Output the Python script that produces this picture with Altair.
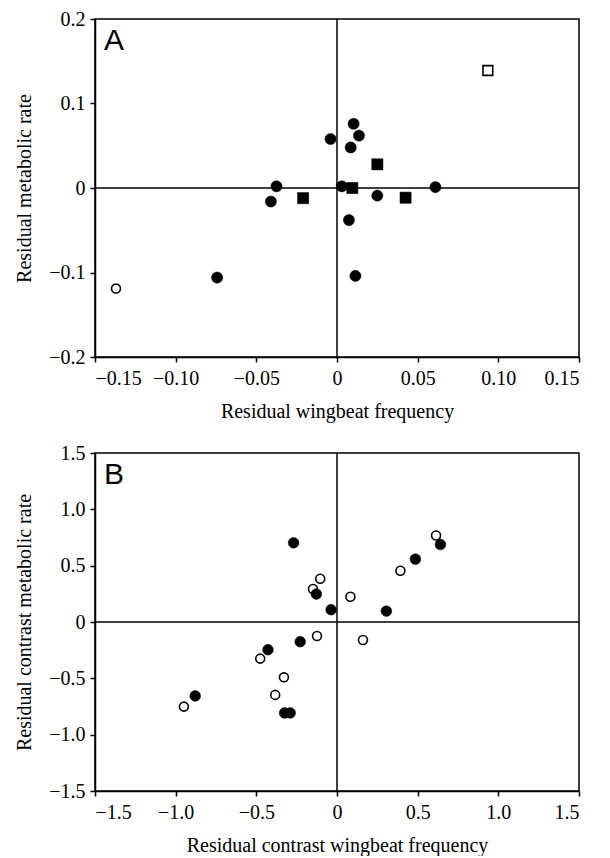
import altair as alt
import pandas as pd

# ---------------- Panel A data ----------------
a_fc_x = [-0.0743, -0.0375, -0.041, -0.004, 0.0103, 0.0136, 0.0085, 0.003, 0.0074, 0.0114, 0.025, 0.061]
a_fc_y = [-0.106, 0.002, -0.016, 0.058, 0.076, 0.062, 0.048, 0.002, -0.038, -0.104, -0.009, 0.001]
a_fs_x = [-0.021, 0.0095, 0.025, 0.0425]
a_fs_y = [-0.012, 0.0, 0.028, -0.0115]
a_oc_x = [-0.137]
a_oc_y = [-0.119]
a_os_x = [0.0935]
a_os_y = [0.139]

# ---------------- Panel B data ----------------
b_fc_x = [-0.269, -0.128, -0.037, -0.228, -0.428, -0.325, -0.29, -0.879, 0.641, 0.486, 0.306]
b_fc_y = [0.703, 0.248, 0.109, -0.175, -0.246, -0.807, -0.807, -0.656, 0.688, 0.558, 0.097]
b_oc_x = [-0.104, -0.149, 0.083, -0.124, 0.161, -0.476, -0.329, -0.383, -0.949, 0.614, 0.393]
b_oc_y = [0.384, 0.293, 0.224, -0.124, -0.160, -0.325, -0.491, -0.647, -0.751, 0.768, 0.455]

# ---------------- Axes ----------------
a_x_ticks = [-0.15, -0.10, -0.05, 0, 0.05, 0.10, 0.15]
a_y_ticks = [-0.2, -0.1, 0, 0.1, 0.2]
b_ticks = [-1.5, -1.0, -0.5, 0, 0.5, 1.0, 1.5]

W, H = 484, 338
SERIF = "Liberation Serif"


def df(xs, ys):
    return pd.DataFrame({"x": xs, "y": ys})


def panel(letter, layers_spec, xdom, ydom, xticks, yticks, xfmt, yfmt, xtitle, ytitle):
    xs = alt.Scale(domain=xdom, nice=False, zero=False)
    ys = alt.Scale(domain=ydom, nice=False, zero=False)
    xax = alt.Axis(values=xticks, title=xtitle, labelFont=SERIF, titleFont=SERIF,
                   labelExpr=f"datum.value == 0 ? '0' : format(datum.value, '{xfmt}')")
    yax = alt.Axis(values=yticks, title=ytitle, labelFont=SERIF, titleFont=SERIF,
                   labelExpr=f"datum.value == 0 ? '0' : format(datum.value, '{yfmt}')")

    vline = alt.Chart(pd.DataFrame({"x": [0]})).mark_rule(color="black", strokeWidth=1.5).encode(
        x=alt.X("x:Q", scale=xs, axis=xax))
    hline = alt.Chart(pd.DataFrame({"y": [0]})).mark_rule(color="black", strokeWidth=1.5).encode(
        y=alt.Y("y:Q", scale=ys, axis=yax))

    layers = [vline, hline]
    for d, shape, filled, size in layers_spec:
        if filled:
            m = alt.Chart(d).mark_point(shape=shape, filled=True, fill="black", stroke="black",
                                        strokeWidth=0.5, size=size, opacity=1)
        else:
            m = alt.Chart(d).mark_point(shape=shape, filled=True, fill="white", stroke="black",
                                        strokeWidth=1.6, size=size, opacity=1)
        layers.append(m.encode(x=alt.X("x:Q", scale=xs, axis=xax),
                               y=alt.Y("y:Q", scale=ys, axis=yax)))

    label = alt.Chart(pd.DataFrame({"t": [letter]})).mark_text(
        font="Liberation Sans", fontSize=30, align="left", baseline="alphabetic", color="black"
    ).encode(x=alt.value(9), y=alt.value(31), text="t:N")
    layers.append(label)
    return alt.layer(*layers).properties(width=W, height=H)


pa = panel(
    "A",
    [
        (df(a_oc_x, a_oc_y), "circle", False, 80),
        (df(a_os_x, a_os_y), "square", False, 95),
        (df(a_fc_x, a_fc_y), "circle", True, 125),
        (df(a_fs_x, a_fs_y), "square", True, 125),
    ],
    [-0.15, 0.15], [-0.2, 0.2], a_x_ticks, a_y_ticks, ".2f", ".1f",
    "Residual wingbeat frequency", "Residual metabolic rate",
)

pb = panel(
    "B",
    [
        (df(b_oc_x, b_oc_y), "circle", False, 80),
        (df(b_fc_x, b_fc_y), "circle", True, 115),
    ],
    [-1.5, 1.5], [-1.5, 1.5], b_ticks, b_ticks, ".1f", ".1f",
    "Residual contrast wingbeat frequency", "Residual contrast metabolic rate",
)

chart = alt.vconcat(pa, pb, spacing=20).properties(
    padding={"left": 5, "right": 5, "top": 0, "bottom": 0}
).configure_view(
    stroke="black", strokeWidth=1.5
).configure_axis(
    grid=False,
    domainColor="black", domainWidth=1.5,
    tickColor="black", tickWidth=1.5, tickSize=5,
    labelFont=SERIF, labelFontSize=20, labelColor="black", labelPadding=5,
    titleFont=SERIF, titleFontSize=20, titleFontWeight="normal", titleColor="black",
).configure_axisX(
    labelPadding=6, titlePadding=13,
).configure_axisY(
    titlePadding=14,
)

chart.save("out.html", embed_options={"renderer": "svg", "actions": False})
